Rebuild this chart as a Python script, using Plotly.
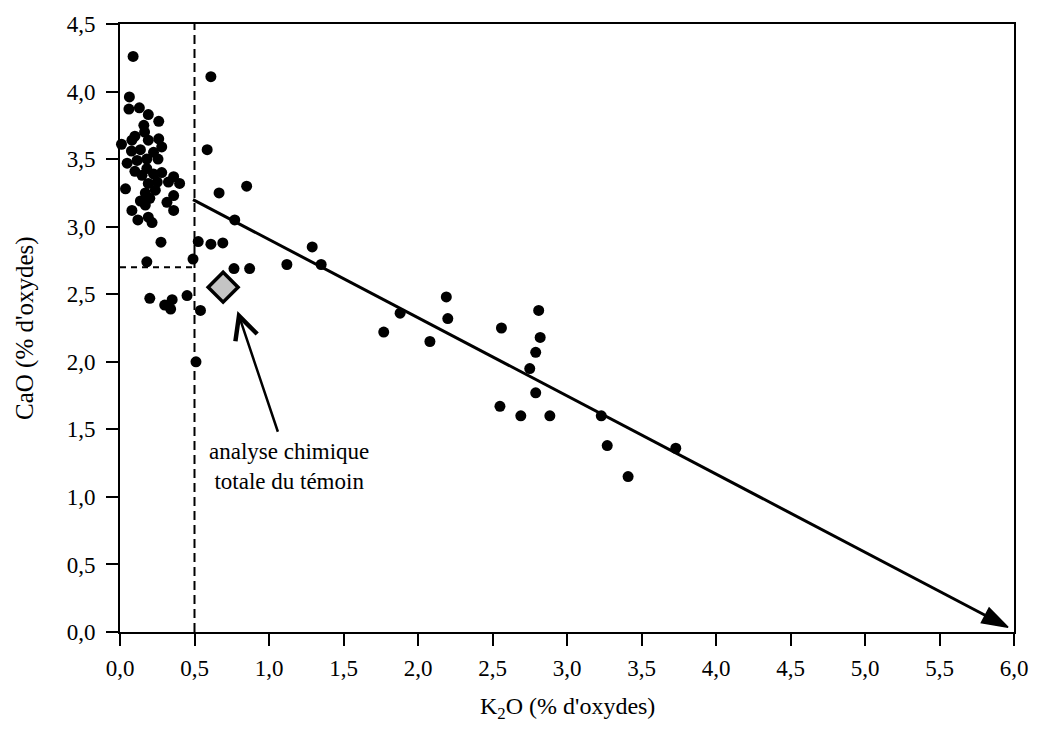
import plotly.graph_objects as go

# ---- data ----
k2o = [
    # dense cluster (K2O < 0.5)
    0.063, 0.06, 0.13, 0.19, 0.26, 0.16, 0.165, 0.10, 0.08, 0.01,
    0.26, 0.19, 0.28, 0.077, 0.137, 0.225, 0.048, 0.115, 0.18, 0.255,
    0.10, 0.18, 0.225, 0.28, 0.148, 0.36, 0.40, 0.037, 0.19, 0.25,
    0.325, 0.17, 0.237, 0.137, 0.20, 0.36, 0.315, 0.08, 0.17, 0.36,
    0.19, 0.12, 0.215,
    # other points
    0.088, 0.61, 0.585, 0.665, 0.85, 0.77, 0.275, 0.525, 0.61, 0.69,
    0.18, 0.49, 0.765, 0.87, 1.12, 1.29, 1.35, 0.20, 0.30, 0.35,
    0.34, 0.45, 0.54, 0.51,
    1.77, 1.88, 2.08, 2.19, 2.20, 2.56, 2.81, 2.82, 2.79, 2.75,
    2.79, 2.55, 2.69, 2.885, 3.23, 3.27, 3.41, 3.73,
]
cao = [
    3.96, 3.87, 3.88, 3.83, 3.78, 3.75, 3.70, 3.67, 3.64, 3.61,
    3.65, 3.64, 3.59, 3.56, 3.57, 3.55, 3.47, 3.49, 3.50, 3.50,
    3.41, 3.43, 3.39, 3.40, 3.38, 3.37, 3.32, 3.28, 3.32, 3.33,
    3.33, 3.25, 3.27, 3.19, 3.21, 3.23, 3.18, 3.12, 3.16, 3.12,
    3.07, 3.05, 3.03,
    4.26, 4.11, 3.57, 3.25, 3.30, 3.05, 2.885, 2.89, 2.87, 2.88,
    2.74, 2.76, 2.69, 2.69, 2.72, 2.85, 2.72, 2.47, 2.42, 2.46,
    2.39, 2.49, 2.38, 2.00,
    2.22, 2.36, 2.15, 2.48, 2.32, 2.25, 2.38, 2.18, 2.07, 1.95,
    1.77, 1.67, 1.60, 1.60, 1.60, 1.38, 1.15, 1.36,
]

temoin_k2o = [0.692]
temoin_cao = [2.552]

trend_k2o = [0.49, 5.96]
trend_cao = [3.20, 0.035]

seuil_k2o = 0.5
seuil_cao = 2.7

x_ticks = [0.0, 0.5, 1.0, 1.5, 2.0, 2.5, 3.0, 3.5, 4.0, 4.5, 5.0, 5.5, 6.0]
y_ticks = [0.0, 0.5, 1.0, 1.5, 2.0, 2.5, 3.0, 3.5, 4.0, 4.5]

x_title = "K<sub>2</sub>O (% d'oxydes)"
y_title = "CaO (% d'oxydes)"
note_text = "analyse chimique<br>totale du témoin"
note_pos = (1.137, 1.223)
note_tail = (1.063, 1.471)
note_tip = (0.788, 2.375)

FONT = "Liberation Serif"

fig = go.Figure()

# dashed reference lines
fig.add_trace(go.Scatter(
    x=[seuil_k2o, seuil_k2o], y=[y_ticks[0], y_ticks[-1]],
    mode="lines", line=dict(color="black", width=2, dash="9px,5px"),
    hoverinfo="skip", showlegend=False))
fig.add_trace(go.Scatter(
    x=[x_ticks[0], seuil_k2o], y=[seuil_cao, seuil_cao],
    mode="lines", line=dict(color="black", width=2, dash="6px,5px"),
    hoverinfo="skip", showlegend=False))

# trend arrow
fig.add_trace(go.Scatter(
    x=trend_k2o, y=trend_cao, mode="lines+markers",
    line=dict(color="#000000", width=3),
    marker=dict(symbol=["circle", "arrow"], size=[0, 27], color="#000000",
                opacity=1, angleref="previous",
                line=dict(width=1.5, color="#000000")),
    opacity=1, cliponaxis=False, hoverinfo="skip", showlegend=False))

# data points
fig.add_trace(go.Scatter(
    x=k2o, y=cao, mode="markers",
    marker=dict(symbol="circle", size=11, color="black"),
    cliponaxis=False, showlegend=False))

# témoin
fig.add_trace(go.Scatter(
    x=temoin_k2o, y=temoin_cao, mode="markers",
    marker=dict(symbol="diamond", size=23, color="#c4c4c4",
                line=dict(color="black", width=3.5)),
    cliponaxis=False, showlegend=False))

fig.add_annotation(
    x=note_tip[0], y=note_tip[1], ax=note_tail[0], ay=note_tail[1],
    xref="x", yref="y", axref="x", ayref="y",
    text="", showarrow=True, arrowhead=5, arrowsize=1.8, arrowwidth=2.5,
    arrowcolor="black")
fig.add_annotation(
    x=note_pos[0], y=note_pos[1], xref="x", yref="y",
    text=note_text, showarrow=False,
    font=dict(family=FONT, size=23, color="black"),
    xanchor="center", yanchor="middle", align="center")

# axis titles
fig.add_annotation(
    x=0.5, y=0, xref="paper", yref="paper", yshift=-76,
    text=x_title, showarrow=False, xanchor="center", yanchor="middle",
    font=dict(family=FONT, size=24, color="black"))
fig.add_annotation(
    x=0, y=0.5, xref="paper", yref="paper", xshift=-95,
    text=y_title, showarrow=False, textangle=-90,
    xanchor="center", yanchor="middle",
    font=dict(family=FONT, size=25, color="black"))

axis_common = dict(
    showline=True, linewidth=2, linecolor="black", mirror=True,
    ticks="outside", ticklen=12, tickwidth=2, tickcolor="black",
    showgrid=False, zeroline=False, tickformat=".1f",
    tickfont=dict(family=FONT, size=23, color="black"),
)

fig.update_xaxes(range=[x_ticks[0], x_ticks[-1]], tickvals=x_ticks,
                 ticklabelstandoff=2, **axis_common)
fig.update_yaxes(range=[y_ticks[0], y_ticks[-1]], tickvals=y_ticks,
                 ticklabelstandoff=6, **axis_common)

fig.update_layout(
    width=1040, height=729,
    margin=dict(l=120, r=20, t=23, b=97, pad=0),
    paper_bgcolor="white", plot_bgcolor="white",
    separators=", ",
    font=dict(family=FONT, color="black"),
)

fig.write_html(
    "out.html",
    config={"displayModeBar": False},
    post_script="document.body.style.margin='0';"
                "document.body.style.overflow='hidden';",
)
